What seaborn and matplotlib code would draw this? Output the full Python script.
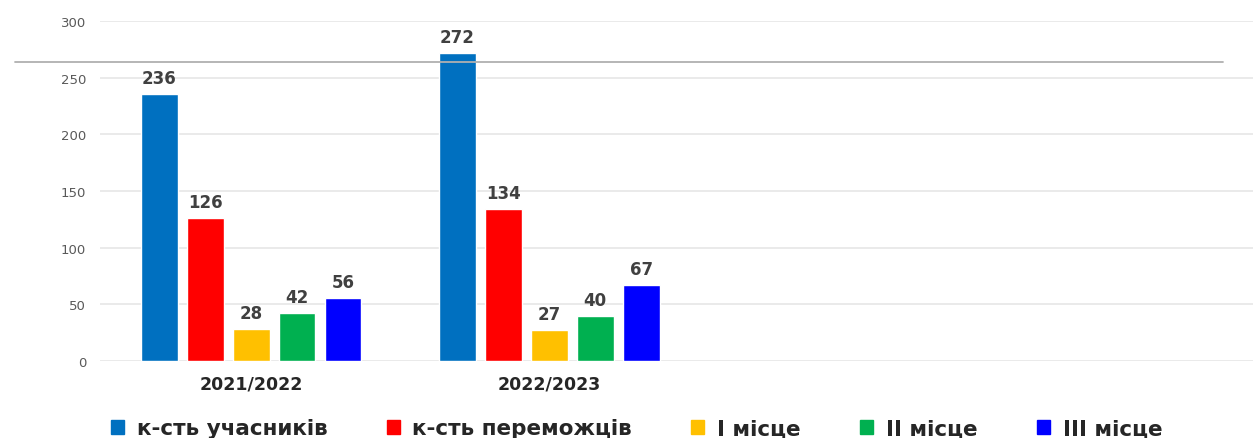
import matplotlib
matplotlib.use("Agg")
import matplotlib.pyplot as plt
from matplotlib.lines import Line2D
import pandas as pd
import seaborn as sns

years = ["2021/2022", "2022/2023"]
series = ["к-сть учасників", "к-сть переможців", "I місце", "II місце", "III місце"]
participants = [236, 272]
winners = [126, 134]
first_place = [28, 27]
second_place = [42, 40]
third_place = [56, 67]
colors = ["#0070C0", "#FF0000", "#FFC000", "#00B050", "#0000FF"]

rows = []
for name, vals in zip(series, [participants, winners, first_place, second_place, third_place]):
    for y, v in zip(years, vals):
        rows.append({"year": y, "series": name, "value": v})
df = pd.DataFrame(rows)

sns.set_style("white")
plt.rcParams["font.family"] = ["DejaVu Sans"]

fig = plt.figure(figsize=(12.53, 4.39), dpi=100)
ax = fig.add_axes([0.0798, 0.1754, 0.9202, 0.7745])

sns.barplot(data=df, x="year", y="value", hue="series", hue_order=series,
            palette=colors, saturation=1, width=0.77, gap=0.2, ax=ax, legend=False)

for cont in ax.containers:
    ax.bar_label(cont, padding=5, fontsize=12, fontweight="bold", color="#404040")

ax.set_ylim(0, 300)
ax.set_xlim(-0.507, 3.36)
ax.set_yticks(range(0, 301, 50))
ax.grid(axis="y", color="#E6E6E6", linewidth=1.2)
ax.set_axisbelow(True)
for s in ax.spines.values():
    s.set_visible(False)
ax.set_xlabel("")
ax.set_ylabel("")
ax.tick_params(axis="y", labelsize=9.5, labelcolor="#595959", length=0, pad=10)
ax.tick_params(axis="x", labelsize=12.5, length=0, pad=10)
for lab in ax.get_xticklabels():
    lab.set_fontweight("bold")
    lab.set_color("#262626")

# thin grey rule across the top of the picture
fig.add_artist(Line2D([15 / 1253, 1223 / 1253], [1 - 63 / 439, 1 - 63 / 439],
                      color="#B0B0B0", linewidth=1.3, transform=fig.transFigure))

handles = [plt.Rectangle((0, 0), 1, 1, color=c) for c in colors]
fig.legend(handles, series, loc="lower center", bbox_to_anchor=(0.508, -0.045), ncol=5,
           frameon=False, prop={"weight": "bold", "size": 15.5}, handlelength=0.6,
           handleheight=0.6, handletextpad=0.6, columnspacing=2.75)

fig.savefig("out.png", dpi=100)
